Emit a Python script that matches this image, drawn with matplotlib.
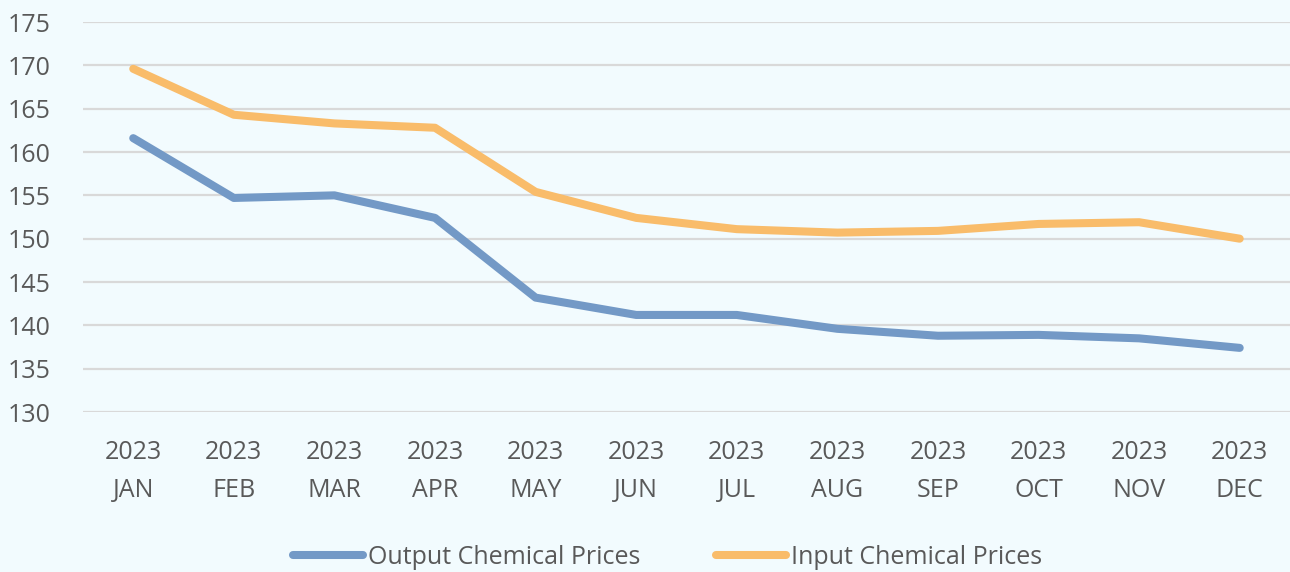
import matplotlib.pyplot as plt

months = ['JAN', 'FEB', 'MAR', 'APR', 'MAY', 'JUN', 'JUL', 'AUG', 'SEP', 'OCT', 'NOV', 'DEC']
year = '2023'
output_prices = [161.6, 154.7, 155.0, 152.4, 143.2, 141.2, 141.2, 139.6, 138.8, 138.9, 138.5, 137.4]
input_prices = [169.6, 164.3, 163.3, 162.8, 155.4, 152.4, 151.1, 150.7, 150.9, 151.7, 151.9, 150.0]
yticks = [130, 135, 140, 145, 150, 155, 160, 165, 170, 175]

bg = '#F2FBFE'
txt = '#595959'
plt.rcParams['font.family'] = ['Open Sans', 'DejaVu Sans']

fig = plt.figure(figsize=(12.9, 5.72), dpi=100, facecolor=bg)
ax = fig.add_axes([0.0643, 0.2797, 0.9357, 0.6818], facecolor=bg)

x = range(len(months))
ax.plot(x, output_prices, color='#7399C6', lw=5.8, solid_capstyle='round',
        solid_joinstyle='round', label='Output Chemical Prices', zorder=3)
ax.plot(x, input_prices, color='#F9BC6A', lw=5.8, solid_capstyle='round',
        solid_joinstyle='round', label='Input Chemical Prices', zorder=3)

ax.set_xlim(-0.5, len(months) - 0.5)
ax.set_ylim(130, 175)
ax.set_yticks(yticks)
ax.set_xticks(list(x))
ax.set_xticklabels([f'{year}\n{m}' for m in months], linespacing=1.7)
ax.tick_params(axis='both', length=0, labelsize=18, labelcolor=txt)
ax.tick_params(axis='x', pad=20)
ax.tick_params(axis='y', pad=54)
for lab in ax.get_yticklabels():
    lab.set_horizontalalignment('left')
ax.grid(axis='y', color='#D9D9D9', lw=1.6, zorder=0)
for s in ax.spines.values():
    s.set_visible(False)

leg = fig.legend(loc='center', bbox_to_anchor=(0.5175, 0.026), ncol=2, frameon=False,
                 fontsize=18, handlelength=2.8, handletextpad=0.2, columnspacing=3.0,
                 labelcolor=txt)

fig.savefig('out.png', dpi=100, facecolor=bg)
